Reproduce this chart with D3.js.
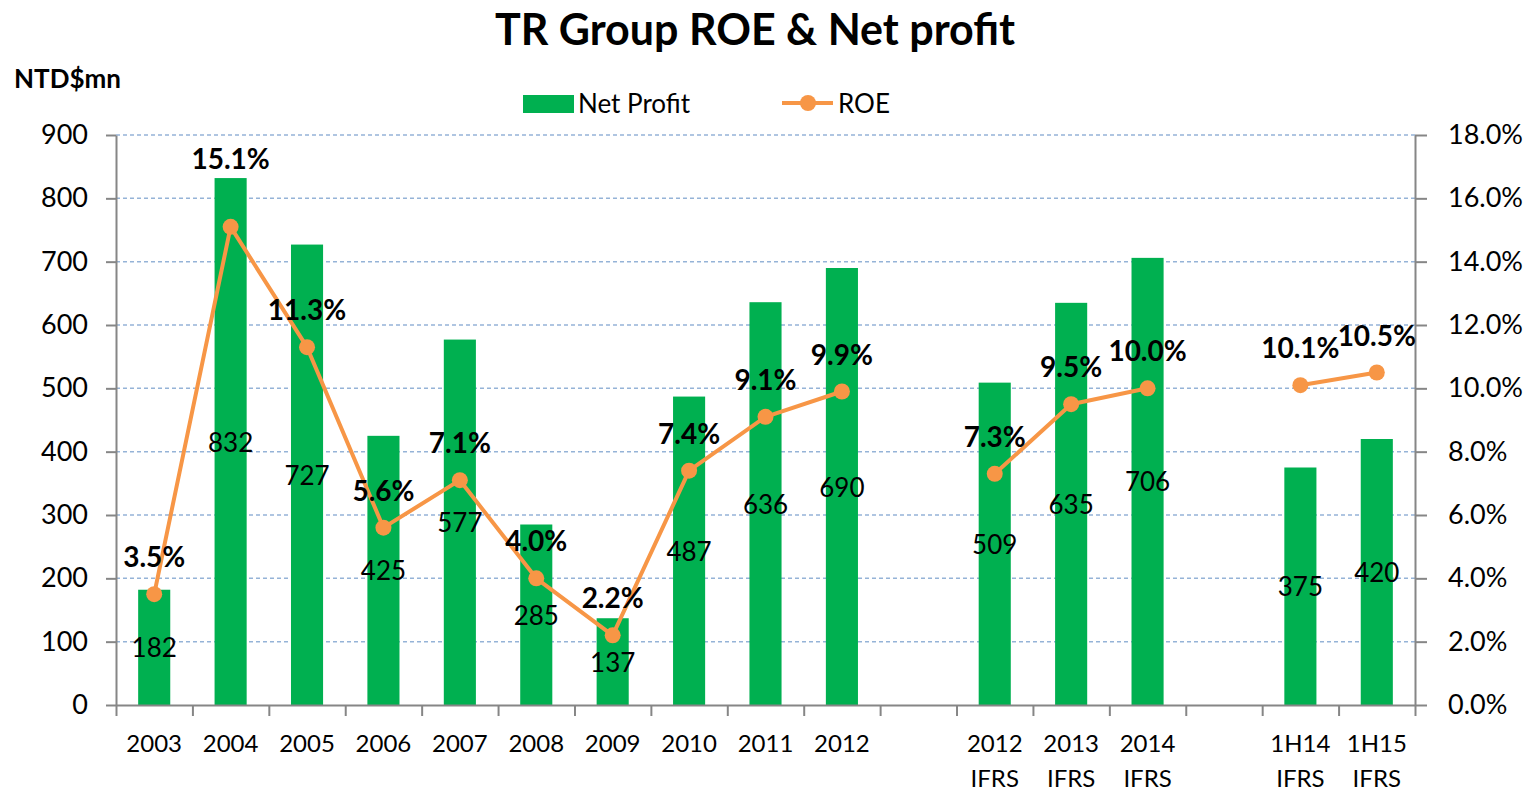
<!DOCTYPE html>
<html>
<head>
<meta charset="utf-8">
<script src="https://cdn.jsdelivr.net/npm/d3@7"></script>
<style>
  body { margin: 0; background: #fff; }
  svg text { font-family: Lato, "Open Sans", sans-serif; fill: #000; }
</style>
</head>
<body>
<div class="roeChart"></div>
<script>
// Chart data (null = empty slot between groups)
const categories = ["2003", "2004", "2005", "2006", "2007", "2008", "2009", "2010", "2011", "2012",
  "", "2012\nIFRS", "2013\nIFRS", "2014\nIFRS", "", "1H14\nIFRS", "1H15\nIFRS"];
const netProfit = [182, 832, 727, 425, 577, 285, 137, 487, 636, 690, null, 509, 635, 706, null, 375, 420];
const roe = [3.5, 15.1, 11.3, 5.6, 7.1, 4.0, 2.2, 7.4, 9.1, 9.9, null, 7.3, 9.5, 10.0, null, 10.1, 10.5];
const leftTicks = [0, 100, 200, 300, 400, 500, 600, 700, 800, 900];
const rightTicks = [0, 2, 4, 6, 8, 10, 12, 14, 16, 18];

const width = 1539
const height = 792
const plot = { left: 116, right: 1415, top: 135, bottom: 705 };

const barColor = "#00b050";
const lineColor = "#f79646";
const axisColor = "#868686";

const svg = d3.select(".roeChart")
  .append("svg")
  .attr("width", width)
  .attr("height", height);

// Scales
const x = d3.scaleBand()
  .domain(d3.range(categories.length))
  .range([plot.left, plot.right])
  .padding(0);
const xEdge = d3.scaleLinear()
  .domain([0, categories.length])
  .range([plot.left, plot.right]);
const y = d3.scaleLinear().domain([0, 900]).range([plot.bottom, plot.top]);
const yR = d3.scaleLinear().domain([0, 18]).range([plot.bottom, plot.top]);

// Title
svg.append("text")
  .attr("x", 755)
  .attr("y", 28)
  .attr("text-anchor", "middle")
  .attr("dominant-baseline", "central")
  .style("font-size", "43px")
  .style("font-weight", "bold")
  .text("TR Group ROE & Net profit");

// Unit label
svg.append("text")
  .attr("x", 14)
  .attr("y", 78)
  .attr("dominant-baseline", "central")
  .style("font-size", "26px")
  .style("font-weight", "bold")
  .text("NTD$mn");

// Gridlines
svg.append("g")
  .selectAll("line")
  .data(leftTicks.filter(d => d > 0))
  .join("line")
  .attr("x1", plot.left)
  .attr("x2", plot.right)
  .attr("y1", d => y(d))
  .attr("y2", d => y(d))
  .attr("stroke", "#95b3d7")
  .attr("stroke-width", 1.5)
  .attr("stroke-dasharray", "4,3");

// Bars
const barW = x.bandwidth() * 0.42;
svg.append("g")
  .selectAll("rect")
  .data(netProfit.map((v, i) => ({ v, i })).filter(d => d.v != null))
  .join("rect")
  .attr("x", d => x(d.i) + (x.bandwidth() - barW) / 2)
  .attr("width", barW)
  .attr("y", d => y(d.v))
  .attr("height", d => y(0) - y(d.v))
  .attr("fill", barColor);

// Axes
const leftAxis = svg.append("g")
  .attr("transform", `translate(${plot.left},0)`)
  .call(d3.axisLeft(y).tickValues(leftTicks).tickSize(10).tickPadding(18).tickSizeOuter(0));
const rightAxis = svg.append("g")
  .attr("transform", `translate(${plot.right},0)`)
  .call(d3.axisRight(yR).tickValues(rightTicks).tickSize(12).tickPadding(21).tickSizeOuter(0)
    .tickFormat(d => d.toFixed(1) + "%"));
const bottomAxis = svg.append("g")
  .attr("transform", `translate(0,${plot.bottom})`)
  .call(d3.axisBottom(xEdge).tickValues(d3.range(categories.length + 1)).tickSize(11).tickSizeOuter(0)
    .tickFormat(""));

[leftAxis, rightAxis, bottomAxis].forEach(a => {
  a.selectAll("path, line").attr("stroke", axisColor).attr("stroke-width", 2);
  a.selectAll("text")
    .style("font-family", "Lato, 'Open Sans', sans-serif")
    .style("font-size", "27px")
    .attr("fill", "#000");
});

// Category labels (two lines for IFRS columns)
const xLabels = svg.append("g")
  .selectAll("text")
  .data(categories.map((c, i) => ({ c, i })).filter(d => d.c !== ""))
  .join("text")
  .attr("x", d => x(d.i) + x.bandwidth() / 2)
  .attr("text-anchor", "middle")
  .style("font-size", "24px");
xLabels.selectAll("tspan")
  .data(d => d.c.split("\n").map((t, k) => ({ t, k, i: d.i })))
  .join("tspan")
  .attr("x", d => x(d.i) + x.bandwidth() / 2)
  .attr("y", d => 752 + d.k * 35)
  .text(d => d.t);

// Bar value labels, centred in the bar
svg.append("g")
  .selectAll("text")
  .data(netProfit.map((v, i) => ({ v, i })).filter(d => d.v != null))
  .join("text")
  .attr("x", d => x(d.i) + x.bandwidth() / 2)
  .attr("y", d => (y(d.v) + y(0)) / 2)
  .attr("text-anchor", "middle")
  .attr("dominant-baseline", "central")
  .style("font-size", "26px")
  .text(d => d.v);

// ROE line, broken at the empty slots
const roeData = roe.map((v, i) => ({ v, i }));
const line = d3.line()
  .defined(d => d.v != null)
  .x(d => x(d.i) + x.bandwidth() / 2)
  .y(d => yR(d.v));

svg.append("path")
  .datum(roeData)
  .attr("d", line)
  .attr("fill", "none")
  .attr("stroke", lineColor)
  .attr("stroke-width", 4)
  .attr("stroke-linejoin", "round");

svg.append("g")
  .selectAll("circle")
  .data(roeData.filter(d => d.v != null))
  .join("circle")
  .attr("cx", d => x(d.i) + x.bandwidth() / 2)
  .attr("cy", d => yR(d.v))
  .attr("r", 8)
  .attr("fill", lineColor);

// ROE labels above the points (the 2004 one sits above its tall bar)
svg.append("g")
  .selectAll("text")
  .data(roeData.filter(d => d.v != null))
  .join("text")
  .attr("x", d => x(d.i) + x.bandwidth() / 2)
  .attr("y", d => d.i === 1 ? y(netProfit[d.i]) - 20 : yR(d.v) - 38)
  .attr("text-anchor", "middle")
  .attr("dominant-baseline", "central")
  .style("font-size", "28px")
  .style("font-weight", "bold")
  .text(d => d.v.toFixed(1) + "%");

// Legend
const legend = svg.append("g");
legend.append("rect")
  .attr("x", 523).attr("y", 95)
  .attr("width", 51).attr("height", 18)
  .attr("fill", barColor);
legend.append("text")
  .attr("x", 578).attr("y", 103)
  .attr("dominant-baseline", "central")
  .style("font-size", "26px")
  .text("Net Profit");
legend.append("line")
  .attr("x1", 782).attr("x2", 833)
  .attr("y1", 103).attr("y2", 103)
  .attr("stroke", lineColor)
  .attr("stroke-width", 4);
legend.append("circle")
  .attr("cx", 808).attr("cy", 103)
  .attr("r", 8)
  .attr("fill", lineColor);
legend.append("text")
  .attr("x", 838).attr("y", 103)
  .attr("dominant-baseline", "central")
  .style("font-size", "26px")
  .text("ROE");
</script>
</body>
</html>
